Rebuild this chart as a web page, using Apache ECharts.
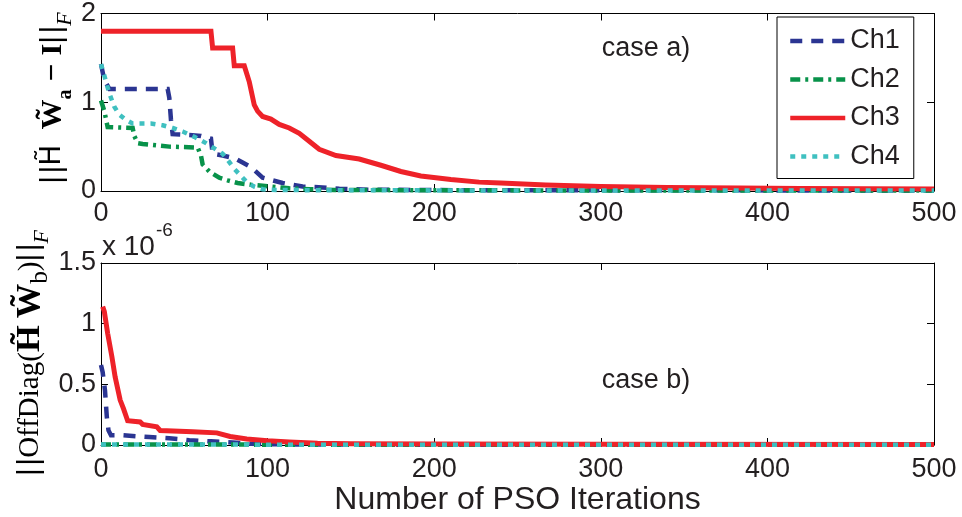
<!DOCTYPE html>
<html>
<head>
<meta charset="utf-8">
<script src="https://cdn.jsdelivr.net/npm/echarts@6/dist/echarts.min.js"></script>
<style>
  html, body { margin: 0; padding: 0; background: #fff; }
  #chart { width: 962px; height: 517px; }
</style>
</head>
<body>
<div id="chart"></div>
<script>
// ---- Channel labels ----
const channels = ['Ch1', 'Ch2', 'Ch3', 'Ch4'];

// ---- Case a): ||H W_a - I||_F versus PSO iteration ----
const iterA_ch1 = [0, 2, 5, 40, 41, 42, 43, 53, 60, 66, 67, 73, 80, 85, 90, 97, 103, 109, 121, 133, 143, 160, 200, 300, 500];
const valA_ch1  = [1.43, 1.25, 1.15, 1.15, 1.05, 0.80, 0.64, 0.63, 0.62, 0.59, 0.42, 0.40, 0.37, 0.32, 0.27, 0.15, 0.12, 0.09, 0.05, 0.04, 0.025, 0.015, 0.01, 0.008, 0.006];

const iterA_ch2 = [0, 2, 4, 19, 20, 22, 25, 41, 58, 60, 61, 65, 71, 76, 82, 90, 97, 105, 113, 125, 140, 200, 300, 500];
const valA_ch2  = [1.02, 0.90, 0.72, 0.71, 0.62, 0.54, 0.53, 0.50, 0.49, 0.40, 0.30, 0.22, 0.15, 0.12, 0.09, 0.07, 0.06, 0.045, 0.03, 0.02, 0.012, 0.008, 0.006, 0.005];

const iterA_ch3 = [0, 66, 67, 79, 80, 86, 89, 92, 94, 97, 102, 107, 113, 119, 125, 131, 141, 155, 168, 180, 192, 210, 227, 240, 267, 300, 340, 383, 420, 460, 500];
const valA_ch3  = [1.80, 1.80, 1.61, 1.61, 1.41, 1.41, 1.23, 0.97, 0.90, 0.84, 0.81, 0.75, 0.71, 0.65, 0.56, 0.47, 0.40, 0.36, 0.29, 0.22, 0.17, 0.13, 0.10, 0.09, 0.067, 0.05, 0.04, 0.033, 0.028, 0.024, 0.022];

const iterA_ch4 = [0, 2, 5, 8, 11, 15, 19, 30, 37, 43, 49, 56, 63, 68, 73, 76, 80, 84, 88, 92, 97, 105, 120, 150, 200, 300, 500];
const valA_ch4  = [1.43, 1.30, 1.10, 0.95, 0.86, 0.80, 0.76, 0.76, 0.74, 0.71, 0.67, 0.61, 0.54, 0.48, 0.42, 0.35, 0.25, 0.17, 0.09, 0.05, 0.02, 0.012, 0.01, 0.008, 0.007, 0.006, 0.005];

// ---- Case b): ||OffDiag(H W_b)||_F versus PSO iteration (units of 1e-6) ----
const iterB_ch1 = [0, 1, 2.4, 3.5, 4.5, 6, 13, 29, 41, 53, 66, 79, 90, 110, 150, 500];
const valB_ch1  = [0.66, 0.60, 0.45, 0.23, 0.12, 0.08, 0.08, 0.065, 0.055, 0.04, 0.03, 0.02, 0.01, 0.005, 0.003, 0.002];

const iterB_ch2 = [0, 100, 300, 500];
const valB_ch2  = [0.004, 0.003, 0.002, 0.002];

const iterB_ch3 = [1, 2, 4, 6.5, 8.5, 11.5, 13.5, 16, 23.5, 25, 33.5, 35.5, 55, 69.5, 77.5, 87.5, 100, 113, 130, 150, 200, 300, 500];
const valB_ch3  = [1.14, 1.10, 0.92, 0.73, 0.56, 0.37, 0.30, 0.20, 0.19, 0.17, 0.15, 0.12, 0.11, 0.10, 0.07, 0.05, 0.035, 0.025, 0.015, 0.01, 0.008, 0.006, 0.005];

const iterB_ch4 = [0, 100, 300, 500];
const valB_ch4  = [0.004, 0.003, 0.002, 0.002];

// ---- Axis ticks ----
const xTicks = [0, 100, 200, 300, 400, 500];
const yTicksA = [0, 1, 2];
const yTicksB = [0, 0.5, 1, 1.5];

// ---- Line appearance per channel ----
const styles = {
  Ch1: { color: '#2b3592', width: 4.5, type: [12, 9] },
  Ch2: { color: '#08924a', width: 4.5, type: [10, 5, 3, 5] },
  Ch3: { color: '#ee2229', width: 5, type: 'solid' },
  Ch4: { color: '#3fc0c0', width: 4.5, type: [5, 6] }
};

function zip(xs, ys) { return xs.map((x, i) => [x, ys[i]]); }

const TXT = '#231f20';
const SANS = 'Liberation Sans, Arial, Helvetica, sans-serif';
const SERIF = 'Liberation Serif, Times New Roman, serif';

function axis(opts) {
  const a = {
    type: 'value',
    min: opts.min, max: opts.max, interval: opts.interval,
    gridIndex: opts.grid,
    position: opts.position,
    axisLine: { show: true, onZero: false, lineStyle: { color: '#000', width: 1 } },
    axisTick: { show: true, inside: true, length: 7, lineStyle: { color: '#000', width: 1 } },
    splitLine: { show: false },
    axisLabel: opts.labels
      ? { show: true, color: TXT, fontFamily: SANS, fontSize: 27, margin: opts.margin,
          formatter: v => String(v) }
      : { show: false }
  };
  if (opts.name) {
    a.name = opts.name;
    a.nameLocation = 'middle';
    a.nameGap = opts.nameGap;
    a.nameTextStyle = { color: TXT, fontFamily: SANS, fontSize: 32 };
  }
  return a;
}

const xStep = xTicks[1] - xTicks[0];
const xMin = xTicks[0], xMax = xTicks[xTicks.length - 1];
const xAxes = [
  axis({ grid: 0, position: 'bottom', min: xMin, max: xMax, interval: xStep, labels: true, margin: 9 }),
  axis({ grid: 0, position: 'top', min: xMin, max: xMax, interval: xStep, labels: false }),
  axis({ grid: 1, position: 'bottom', min: xMin, max: xMax, interval: xStep, labels: true, margin: 11,
         name: 'Number of PSO Iterations', nameGap: 36 }),
  axis({ grid: 1, position: 'top', min: xMin, max: xMax, interval: xStep, labels: false })
];
const yAxes = [
  axis({ grid: 0, position: 'left', min: yTicksA[0], max: yTicksA[yTicksA.length - 1], interval: yTicksA[1] - yTicksA[0], labels: true, margin: 5 }),
  axis({ grid: 0, position: 'right', min: yTicksA[0], max: yTicksA[yTicksA.length - 1], interval: yTicksA[1] - yTicksA[0], labels: false }),
  axis({ grid: 1, position: 'left', min: yTicksB[0], max: yTicksB[yTicksB.length - 1], interval: yTicksB[1] - yTicksB[0], labels: true, margin: 5 }),
  axis({ grid: 1, position: 'right', min: yTicksB[0], max: yTicksB[yTicksB.length - 1], interval: yTicksB[1] - yTicksB[0], labels: false })
];

const caseA = { Ch1: zip(iterA_ch1, valA_ch1), Ch2: zip(iterA_ch2, valA_ch2), Ch3: zip(iterA_ch3, valA_ch3), Ch4: zip(iterA_ch4, valA_ch4) };
const caseB = { Ch1: zip(iterB_ch1, valB_ch1), Ch2: zip(iterB_ch2, valB_ch2), Ch3: zip(iterB_ch3, valB_ch3), Ch4: zip(iterB_ch4, valB_ch4) };

function lineSeries(name, data, xi, yi) {
  const s = styles[name];
  return {
    type: 'line', name, data,
    xAxisIndex: xi, yAxisIndex: yi,
    symbol: 'none', showSymbol: false,
    lineStyle: { color: s.color, width: s.width, type: s.type, cap: 'butt', join: 'miter' },
    itemStyle: { color: s.color },
    emphasis: { disabled: true },
    silent: true
  };
}

const series = [];
channels.forEach(c => series.push(lineSeries(c, caseA[c], 0, 0)));
channels.forEach(c => series.push(lineSeries(c, caseB[c], 2, 2)));

function richSet(k) {
  const mid = (o) => Object.assign({ color: TXT, lineHeight: 46, verticalAlign: 'middle' }, o);
  const low = (o) => Object.assign({ color: TXT, lineHeight: 34, verticalAlign: 'bottom' }, o);
  return {
    s:  mid({ fontFamily: SANS, fontSize: 30 }),
    ds: mid({ fontFamily: 'DejaVu Sans, sans-serif', fontSize: 28 }),
    b:  mid({ fontFamily: SERIF, fontWeight: 'bold', fontSize: 30 * k }),
    r:  mid({ fontFamily: SERIF, fontSize: 29 }),
    sb: low({ fontFamily: SERIF, fontWeight: 'bold', fontSize: 20 * k }),
    sr: low({ fontFamily: SERIF, fontSize: 22 * k }),
    it: low({ fontFamily: SERIF, fontStyle: 'italic', fontSize: 22 })
  };
}

const option = {
  backgroundColor: '#fff',
  animation: false,
  grid: [
    { left: 101, right: 28, top: 10, height: 181, containLabel: false },
    { left: 101, right: 28, top: 263, height: 182, containLabel: false }
  ],
  xAxis: xAxes,
  yAxis: yAxes,
  legend: {
    data: channels,
    orient: 'vertical',
    left: 777, top: 17,
    padding: [9, 14, 7, 11],
    itemGap: 8.5,
    itemWidth: 55, itemHeight: 14,
    backgroundColor: '#fff',
    borderColor: '#000', borderWidth: 1, borderRadius: 0,
    selectedMode: false,
    itemStyle: { color: 'rgba(0,0,0,0)', borderWidth: 0, opacity: 0 },
    lineStyle: { width: 4.5 },
    textStyle: { color: TXT, fontFamily: SANS, fontSize: 27, lineHeight: 30 }
  },
  series,
  graphic: [
    { type: 'text', x: 646, y: 49, silent: true,
      style: { text: 'case a)', fill: TXT, font: '27px ' + SANS, align: 'center', verticalAlign: 'middle' } },
    { type: 'text', x: 646, y: 381, silent: true,
      style: { text: 'case b)', fill: TXT, font: '27px ' + SANS, align: 'center', verticalAlign: 'middle' } },
    { type: 'text', x: 102, y: 247, silent: true,
      style: { text: 'x 10', fill: TXT, font: '28px ' + SANS, align: 'left', verticalAlign: 'middle' } },
    { type: 'text', x: 156, y: 231, silent: true,
      style: { text: '-6', fill: TXT, font: '19px ' + SANS, align: 'left', verticalAlign: 'middle' } },
    { type: 'text', x: 53, y: 98, rotation: Math.PI / 2, silent: true,
      style: {
        text: '{s||\u200a|}{ds|H\u0303}{s|\u2002}{b|W\u0303}{sb|a}{s| \u2212 }{b|I}{s||\u200a|}{it|F}',
        rich: richSet(1), align: 'center', verticalAlign: 'middle'
      } },
    { type: 'text', x: 30, y: 353, rotation: Math.PI / 2, silent: true,
      style: {
        text: '{s||\u200a|}{r|OffDiag(}{b|H\u0303\u2009W\u0303}{sr|b}{r|)}{s||\u200a|}{it|F}',
        rich: richSet(1.15), align: 'center', verticalAlign: 'middle'
      } }
  ]
};

const chart = echarts.init(document.getElementById('chart'), null, { renderer: 'canvas' });
chart.setOption(option);
</script>
</body>
</html>
